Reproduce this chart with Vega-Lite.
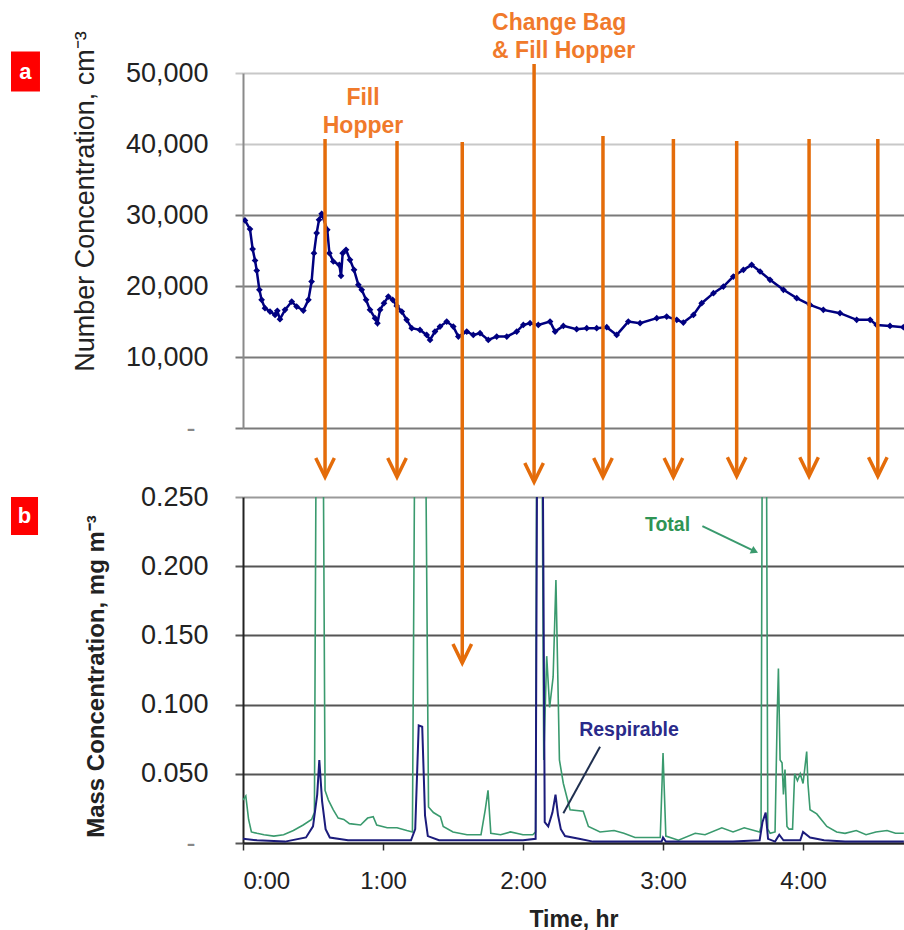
{
  "$schema": "https://vega.github.io/schema/vega-lite/v6.json",
  "autosize": {"type": "none"},
  "padding": {"left": 243, "top": 73, "right": 661, "bottom": 857},
  "background": "white",
  "config": {
    "view": {"stroke": null},
    "font": "Liberation Sans",
    "axis": {"labelFont": "Liberation Sans", "titleFont": "Liberation Sans"}
  },
  "datasets": {
    "num": [
      {"h": 0.014, "n": 29230}, {"h": 0.05, "n": 28020}, {"h": 0.069, "n": 25200}, {"h": 0.086, "n": 23590},
      {"h": 0.098, "n": 22180}, {"h": 0.117, "n": 19460}, {"h": 0.133, "n": 18050}, {"h": 0.157, "n": 16880},
      {"h": 0.193, "n": 16400}, {"h": 0.229, "n": 15930}, {"h": 0.245, "n": 16500}, {"h": 0.264, "n": 15330},
      {"h": 0.3, "n": 16640}, {"h": 0.348, "n": 17810}, {"h": 0.383, "n": 17100}, {"h": 0.431, "n": 16540},
      {"h": 0.467, "n": 18050}, {"h": 0.49, "n": 20630}, {"h": 0.507, "n": 24630}, {"h": 0.526, "n": 27450},
      {"h": 0.543, "n": 29330}, {"h": 0.562, "n": 30170}, {"h": 0.602, "n": 27920}, {"h": 0.617, "n": 24630},
      {"h": 0.645, "n": 23450}, {"h": 0.688, "n": 22980}, {"h": 0.7, "n": 21430}, {"h": 0.712, "n": 24630},
      {"h": 0.736, "n": 25100}, {"h": 0.764, "n": 23690}, {"h": 0.793, "n": 22280}, {"h": 0.824, "n": 20160},
      {"h": 0.848, "n": 19460}, {"h": 0.879, "n": 18050}, {"h": 0.907, "n": 16640}, {"h": 0.943, "n": 15470},
      {"h": 0.96, "n": 14760}, {"h": 0.979, "n": 16640}, {"h": 1.007, "n": 17580}, {"h": 1.038, "n": 18510},
      {"h": 1.069, "n": 18050}, {"h": 1.098, "n": 17200}, {"h": 1.134, "n": 16400}, {"h": 1.169, "n": 15230},
      {"h": 1.205, "n": 14060}, {"h": 1.264, "n": 13820}, {"h": 1.312, "n": 13110}, {"h": 1.336, "n": 12410},
      {"h": 1.371, "n": 13580}, {"h": 1.407, "n": 14280}, {"h": 1.455, "n": 14990}, {"h": 1.502, "n": 14280},
      {"h": 1.538, "n": 12870}, {"h": 1.598, "n": 13580}, {"h": 1.645, "n": 13110}, {"h": 1.693, "n": 13350},
      {"h": 1.752, "n": 12410}, {"h": 1.812, "n": 12870}, {"h": 1.884, "n": 12870}, {"h": 1.955, "n": 13580},
      {"h": 2.002, "n": 14520}, {"h": 2.05, "n": 14760}, {"h": 2.109, "n": 14520}, {"h": 2.193, "n": 14990},
      {"h": 2.229, "n": 13580}, {"h": 2.288, "n": 14380}, {"h": 2.383, "n": 13920}, {"h": 2.455, "n": 14060},
      {"h": 2.526, "n": 14060}, {"h": 2.598, "n": 14200}, {"h": 2.669, "n": 13110}, {"h": 2.752, "n": 14990},
      {"h": 2.836, "n": 14760}, {"h": 2.955, "n": 15470}, {"h": 3.026, "n": 15700}, {"h": 3.098, "n": 15230},
      {"h": 3.145, "n": 14850}, {"h": 3.217, "n": 15930}, {"h": 3.276, "n": 17580}, {"h": 3.36, "n": 18990},
      {"h": 3.431, "n": 19920}, {"h": 3.502, "n": 21330}, {"h": 3.574, "n": 22280}, {"h": 3.633, "n": 22980},
      {"h": 3.693, "n": 22040}, {"h": 3.764, "n": 20870}, {"h": 3.86, "n": 19460}, {"h": 3.955, "n": 18290},
      {"h": 4.05, "n": 17340}, {"h": 4.145, "n": 16640}, {"h": 4.264, "n": 16170}, {"h": 4.383, "n": 15230},
      {"h": 4.479, "n": 15230}, {"h": 4.526, "n": 14520}, {"h": 4.621, "n": 14380}, {"h": 4.717, "n": 14200}
    ],
    "total": [
      {"h": 0.0, "v": 0.031}, {"h": 0.02, "v": 0.034}, {"h": 0.04, "v": 0.017}, {"h": 0.06, "v": 0.008},
      {"h": 0.1, "v": 0.007}, {"h": 0.15, "v": 0.006}, {"h": 0.22, "v": 0.005}, {"h": 0.29, "v": 0.006},
      {"h": 0.36, "v": 0.009}, {"h": 0.43, "v": 0.013}, {"h": 0.49, "v": 0.017}, {"h": 0.51, "v": 0.022},
      {"h": 0.525, "v": 0.35}, {"h": 0.545, "v": 0.42}, {"h": 0.57, "v": 0.35}, {"h": 0.586, "v": 0.038},
      {"h": 0.61, "v": 0.031}, {"h": 0.645, "v": 0.024}, {"h": 0.68, "v": 0.018}, {"h": 0.72, "v": 0.017},
      {"h": 0.76, "v": 0.014}, {"h": 0.84, "v": 0.013}, {"h": 0.89, "v": 0.018}, {"h": 0.93, "v": 0.019},
      {"h": 0.955, "v": 0.013}, {"h": 1.03, "v": 0.011}, {"h": 1.1, "v": 0.011}, {"h": 1.17, "v": 0.009},
      {"h": 1.21, "v": 0.008}, {"h": 1.23, "v": 0.35}, {"h": 1.265, "v": 0.4}, {"h": 1.3, "v": 0.35},
      {"h": 1.325, "v": 0.026}, {"h": 1.36, "v": 0.022}, {"h": 1.41, "v": 0.019}, {"h": 1.43, "v": 0.012},
      {"h": 1.5, "v": 0.008}, {"h": 1.6, "v": 0.006}, {"h": 1.7, "v": 0.006}, {"h": 1.73, "v": 0.024},
      {"h": 1.75, "v": 0.038}, {"h": 1.77, "v": 0.007}, {"h": 1.84, "v": 0.006}, {"h": 1.91, "v": 0.008},
      {"h": 2.0, "v": 0.006}, {"h": 2.07, "v": 0.006}, {"h": 2.09, "v": 0.008}, {"h": 2.1, "v": 0.4},
      {"h": 2.13, "v": 0.4}, {"h": 2.148, "v": 0.06}, {"h": 2.169, "v": 0.135}, {"h": 2.19, "v": 0.098},
      {"h": 2.215, "v": 0.12}, {"h": 2.235, "v": 0.19}, {"h": 2.26, "v": 0.06}, {"h": 2.288, "v": 0.043},
      {"h": 2.336, "v": 0.024}, {"h": 2.43, "v": 0.023}, {"h": 2.467, "v": 0.012}, {"h": 2.55, "v": 0.008},
      {"h": 2.65, "v": 0.009}, {"h": 2.72, "v": 0.007}, {"h": 2.8, "v": 0.004}, {"h": 2.98, "v": 0.004},
      {"h": 3.0, "v": 0.065}, {"h": 3.02, "v": 0.005}, {"h": 3.11, "v": 0.002}, {"h": 3.23, "v": 0.007},
      {"h": 3.3, "v": 0.006}, {"h": 3.42, "v": 0.011}, {"h": 3.5, "v": 0.008}, {"h": 3.58, "v": 0.011},
      {"h": 3.69, "v": 0.008}, {"h": 3.7, "v": 0.012}, {"h": 3.712, "v": 0.4}, {"h": 3.735, "v": 0.4},
      {"h": 3.748, "v": 0.01}, {"h": 3.765, "v": 0.007}, {"h": 3.8, "v": 0.008}, {"h": 3.815, "v": 0.09},
      {"h": 3.824, "v": 0.126}, {"h": 3.836, "v": 0.06}, {"h": 3.85, "v": 0.058}, {"h": 3.86, "v": 0.035},
      {"h": 3.871, "v": 0.053}, {"h": 3.885, "v": 0.012}, {"h": 3.9, "v": 0.01}, {"h": 3.925, "v": 0.01},
      {"h": 3.94, "v": 0.05}, {"h": 3.96, "v": 0.045}, {"h": 3.98, "v": 0.05}, {"h": 4.0, "v": 0.043},
      {"h": 4.026, "v": 0.066}, {"h": 4.035, "v": 0.043}, {"h": 4.05, "v": 0.024}, {"h": 4.098, "v": 0.021},
      {"h": 4.17, "v": 0.012}, {"h": 4.24, "v": 0.008}, {"h": 4.3, "v": 0.007}, {"h": 4.38, "v": 0.009},
      {"h": 4.45, "v": 0.006}, {"h": 4.52, "v": 0.008}, {"h": 4.6, "v": 0.009}, {"h": 4.66, "v": 0.007},
      {"h": 4.72, "v": 0.007}
    ],
    "resp": [
      {"h": 0.0, "v": 0.003}, {"h": 0.1, "v": 0.002}, {"h": 0.3, "v": 0.001}, {"h": 0.45, "v": 0.004},
      {"h": 0.5, "v": 0.012}, {"h": 0.53, "v": 0.035}, {"h": 0.545, "v": 0.06}, {"h": 0.565, "v": 0.03},
      {"h": 0.59, "v": 0.01}, {"h": 0.62, "v": 0.004}, {"h": 0.75, "v": 0.002}, {"h": 1.0, "v": 0.002},
      {"h": 1.2, "v": 0.002}, {"h": 1.23, "v": 0.01}, {"h": 1.255, "v": 0.085}, {"h": 1.28, "v": 0.084},
      {"h": 1.3, "v": 0.02}, {"h": 1.32, "v": 0.005}, {"h": 1.4, "v": 0.002}, {"h": 1.7, "v": 0.002},
      {"h": 2.0, "v": 0.002}, {"h": 2.09, "v": 0.003}, {"h": 2.105, "v": 0.4}, {"h": 2.125, "v": 0.4},
      {"h": 2.14, "v": 0.3}, {"h": 2.155, "v": 0.015}, {"h": 2.18, "v": 0.012}, {"h": 2.21, "v": 0.022},
      {"h": 2.232, "v": 0.035}, {"h": 2.25, "v": 0.02}, {"h": 2.27, "v": 0.01}, {"h": 2.3, "v": 0.005},
      {"h": 2.4, "v": 0.003}, {"h": 2.5, "v": 0.001}, {"h": 2.7, "v": 0.001}, {"h": 2.99, "v": 0.001},
      {"h": 3.0, "v": 0.004}, {"h": 3.02, "v": 0.001}, {"h": 3.5, "v": 0.001}, {"h": 3.69, "v": 0.002},
      {"h": 3.71, "v": 0.015}, {"h": 3.733, "v": 0.022}, {"h": 3.75, "v": 0.003}, {"h": 3.8, "v": 0.001},
      {"h": 3.83, "v": 0.006}, {"h": 3.86, "v": 0.002}, {"h": 3.98, "v": 0.002}, {"h": 4.0, "v": 0.008},
      {"h": 4.05, "v": 0.004}, {"h": 4.15, "v": 0.002}, {"h": 4.3, "v": 0.001}, {"h": 4.72, "v": 0.001}
    ],
    "arrows": [
      {"h": 0.586, "top": 0.5086, "tip": 0.2644},
      {"h": 1.1, "top": 0.5072, "tip": 0.2644},
      {"h": 1.566, "top": 0.5065, "tip": 0.13},
      {"h": 2.079, "top": 0.5628, "tip": 0.2608},
      {"h": 2.571, "top": 0.5108, "tip": 0.2644},
      {"h": 3.074, "top": 0.5086, "tip": 0.2644},
      {"h": 3.526, "top": 0.5072, "tip": 0.265},
      {"h": 4.043, "top": 0.5086, "tip": 0.265},
      {"h": 4.534, "top": 0.5086, "tip": 0.265}
    ],
    "labelsCenter": [
      {"h": 0.857, "n": 45540, "label": "Fill"},
      {"h": 0.857, "n": 41600, "label": "Hopper"}
    ],
    "labelsLeft": [
      {"h": 1.779, "n": 55990, "label": "Change Bag"},
      {"h": 1.779, "n": 52180, "label": "& Fill Hopper"}
    ]
  },
  "vconcat": [
    {
      "width": 661,
      "height": 355,
      "layer": [
        {
          "data": {"name": "num"},
          "mark": {"type": "line", "color": "#000080", "strokeWidth": 2.5, "clip": true,
                   "point": {"shape": "diamond", "size": 45, "filled": true, "color": "#000080"}},
          "encoding": {
            "x": {"field": "h", "type": "quantitative", "scale": {"domain": [0, 4.721], "nice": false, "zero": false}, "axis": null},
            "y": {"field": "n", "type": "quantitative", "scale": {"domain": [0, 50000], "nice": false},
                  "axis": {
                    "title": "Number Concentration, cm⁻³",
                    "titleFontSize": 27, "titleFontWeight": "normal", "titleColor": "#222",
                    "titleX": -150, "titleY": 128, "titleBaseline": "alphabetic",
                    "values": [0, 10000, 20000, 30000, 40000, 50000],
                    "labelExpr": "datum.value == 0 ? '-' : format(datum.value, ',')",
                    "labelFontSize": 27,
                    "labelColor": {"condition": {"test": "datum.value == 0", "value": "#888888"}, "value": "#222222"},
                    "labelPadding": {"condition": {"test": "datum.value == 0", "value": 40}, "value": 27},
                    "tickSize": 8, "tickWidth": 2,
                    "tickColor": {"condition": {"test": "datum.value >= 40000", "value": "#c8c8c8"}, "value": "#7a7a7a"},
                    "grid": true, "gridWidth": 2,
                    "gridColor": {"condition": {"test": "datum.value >= 40000", "value": "#c8c8c8"}, "value": "#7a7a7a"},
                    "domainColor": "#8a8a8a", "domainWidth": 2
                  }}
          }
        },
        {
          "data": {"name": "labelsCenter"},
          "mark": {"type": "text", "font": "Liberation Sans", "fontWeight": "bold", "fontSize": 23, "color": "#F07A2B", "baseline": "alphabetic", "align": "center"},
          "encoding": {
            "x": {"field": "h", "type": "quantitative", "scale": {"domain": [0, 4.721], "nice": false, "zero": false}},
            "y": {"field": "n", "type": "quantitative", "scale": {"domain": [0, 50000], "nice": false}},
            "text": {"field": "label"}
          }
        },
        {
          "data": {"name": "labelsLeft"},
          "mark": {"type": "text", "font": "Liberation Sans", "fontWeight": "bold", "fontSize": 23, "color": "#F07A2B", "baseline": "alphabetic", "align": "left"},
          "encoding": {
            "x": {"field": "h", "type": "quantitative", "scale": {"domain": [0, 4.721], "nice": false, "zero": false}},
            "y": {"field": "n", "type": "quantitative", "scale": {"domain": [0, 50000], "nice": false}},
            "text": {"field": "label"}
          }
        },
        {
          "data": {"values": [{"x1": -1.657, "x2": -1.45, "y1": 53030, "y2": 47390, "xc": -1.554, "yc": 50210, "t": "a"}]},
          "layer": [
            {
              "mark": {"type": "rect", "color": "#FF0000"},
              "encoding": {
                "x": {"field": "x1", "type": "quantitative", "scale": {"domain": [0, 4.721], "nice": false, "zero": false}},
                "x2": {"field": "x2"},
                "y": {"field": "y1", "type": "quantitative", "scale": {"domain": [0, 50000], "nice": false}},
                "y2": {"field": "y2"}
              }
            },
            {
              "mark": {"type": "text", "color": "white", "fontWeight": "bold", "fontSize": 22, "baseline": "middle", "align": "center"},
              "encoding": {
                "x": {"field": "xc", "type": "quantitative", "scale": {"domain": [0, 4.721], "nice": false, "zero": false}},
                "y": {"field": "yc", "type": "quantitative", "scale": {"domain": [0, 50000], "nice": false}},
                "text": {"field": "t"}
              }
            }
          ]
        }
      ]
    },
    {
      "width": 661,
      "height": 346,
      "layer": [
        {
          "data": {"name": "total"},
          "mark": {"type": "line", "color": "#3a9a6e", "strokeWidth": 1.6, "clip": true},
          "encoding": {
            "x": {"field": "h", "type": "quantitative", "scale": {"domain": [0, 4.721], "nice": false, "zero": false},
                  "axis": {
                    "title": "Time, hr", "titleFontSize": 23, "titleFontWeight": "bold", "titleColor": "#222",
                    "titleY": 83, "titleBaseline": "alphabetic",
                    "values": [0, 1, 2, 3, 4],
                    "labelExpr": "datum.value + ':00'",
                    "labelFontSize": 24, "labelColor": "#222", "labelPadding": 19,
                    "tickSize": 7, "tickColor": "#333", "tickWidth": 1.5,
                    "grid": false, "domainColor": "#222", "domainWidth": 2
                  }},
            "y": {"field": "v", "type": "quantitative", "scale": {"domain": [0, 0.25], "nice": false},
                  "axis": {
                    "title": "Mass Concentration,  mg m⁻³",
                    "titleFontSize": 24, "titleFontWeight": "bold", "titleColor": "#222",
                    "titleX": -140, "titleY": 179, "titleBaseline": "alphabetic",
                    "values": [0, 0.05, 0.1, 0.15, 0.2, 0.25],
                    "labelExpr": "datum.value == 0 ? '-' : format(datum.value, '.3f')",
                    "labelFontSize": 27,
                    "labelColor": {"condition": {"test": "datum.value == 0", "value": "#888888"}, "value": "#222222"},
                    "labelPadding": {"condition": {"test": "datum.value == 0", "value": 40}, "value": 27},
                    "tickSize": 8, "tickWidth": 2,
                    "tickColor": {"condition": {"test": "datum.value >= 0.24", "value": "#9a9a9a"}, "value": "#555555"},
                    "grid": true, "gridWidth": 2,
                    "gridColor": {"condition": {"test": "datum.value >= 0.24", "value": "#9a9a9a"}, "value": "#555555"},
                    "domainColor": "#222", "domainWidth": 2
                  }}
          }
        },
        {
          "data": {"name": "resp"},
          "mark": {"type": "line", "color": "#1c1c7c", "strokeWidth": 2, "clip": true},
          "encoding": {
            "x": {"field": "h", "type": "quantitative", "scale": {"domain": [0, 4.721], "nice": false, "zero": false}},
            "y": {"field": "v", "type": "quantitative", "scale": {"domain": [0, 0.25], "nice": false}}
          }
        },
        {
          "data": {"values": [
            {"x1": 3.281, "y1": 0.229, "x2": 3.66, "y2": 0.2105, "c": "#3a9a6e"},
            {"x1": 2.55, "y1": 0.0696, "x2": 2.288, "y2": 0.0215, "c": "#1f2f4f"}
          ]},
          "mark": {"type": "rule", "strokeWidth": 2},
          "encoding": {
            "x": {"field": "x1", "type": "quantitative", "scale": {"domain": [0, 4.721], "nice": false, "zero": false}},
            "x2": {"field": "x2"},
            "y": {"field": "y1", "type": "quantitative", "scale": {"domain": [0, 0.25], "nice": false}},
            "y2": {"field": "y2"},
            "color": {"field": "c", "type": "nominal", "scale": null}
          }
        },
        {
          "data": {"values": [{"x": 3.655, "y": 0.2108}]},
          "mark": {"type": "point", "shape": "triangle-right", "filled": true, "color": "#3a9a6e", "size": 70, "angle": 26, "opacity": 1},
          "encoding": {
            "x": {"field": "x", "type": "quantitative", "scale": {"domain": [0, 4.721], "nice": false, "zero": false}},
            "y": {"field": "y", "type": "quantitative", "scale": {"domain": [0, 0.25], "nice": false}}
          }
        },
        {
          "data": {"values": [
            {"x": 3.032, "y": 0.2298, "t": "Total", "c": "#2f9455"},
            {"x": 2.757, "y": 0.0816, "t": "Respirable", "c": "#2a2a8a"}
          ]},
          "mark": {"type": "text", "fontWeight": "bold", "fontSize": 19.5, "baseline": "middle", "align": "center"},
          "encoding": {
            "x": {"field": "x", "type": "quantitative", "scale": {"domain": [0, 4.721], "nice": false, "zero": false}},
            "y": {"field": "y", "type": "quantitative", "scale": {"domain": [0, 0.25], "nice": false}},
            "text": {"field": "t"},
            "color": {"field": "c", "type": "nominal", "scale": null}
          }
        },
        {
          "data": {"name": "arrows"},
          "mark": {"type": "rule", "color": "#E46C0A", "strokeWidth": 3.5, "clip": false},
          "encoding": {
            "x": {"field": "h", "type": "quantitative", "scale": {"domain": [0, 4.721], "nice": false, "zero": false}},
            "y": {"field": "top", "type": "quantitative", "scale": {"domain": [0, 0.25], "nice": false}},
            "y2": {"field": "tip"}
          }
        },
        {
          "data": {"name": "arrows"},
          "mark": {"type": "point", "shape": "M-0.93,-1.9L0,0L0.93,-1.9", "size": 400, "filled": false, "stroke": "#E46C0A", "strokeWidth": 3.5, "opacity": 1, "clip": false},
          "encoding": {
            "x": {"field": "h", "type": "quantitative", "scale": {"domain": [0, 4.721], "nice": false, "zero": false}},
            "y": {"field": "tip", "type": "quantitative", "scale": {"domain": [0, 0.25], "nice": false}}
          }
        },
        {
          "data": {"values": [{"x1": -1.657, "x2": -1.464, "y1": 0.25, "y2": 0.2225, "xc": -1.561, "yc": 0.2363, "t": "b"}]},
          "layer": [
            {
              "mark": {"type": "rect", "color": "#FF0000"},
              "encoding": {
                "x": {"field": "x1", "type": "quantitative", "scale": {"domain": [0, 4.721], "nice": false, "zero": false}},
                "x2": {"field": "x2"},
                "y": {"field": "y1", "type": "quantitative", "scale": {"domain": [0, 0.25], "nice": false}},
                "y2": {"field": "y2"}
              }
            },
            {
              "mark": {"type": "text", "color": "white", "fontWeight": "bold", "fontSize": 22, "baseline": "middle", "align": "center"},
              "encoding": {
                "x": {"field": "xc", "type": "quantitative", "scale": {"domain": [0, 4.721], "nice": false, "zero": false}},
                "y": {"field": "yc", "type": "quantitative", "scale": {"domain": [0, 0.25], "nice": false}},
                "text": {"field": "t"}
              }
            }
          ]
        }
      ]
    }
  ],
  "spacing": 69,
  "bounds": "flush"
}
